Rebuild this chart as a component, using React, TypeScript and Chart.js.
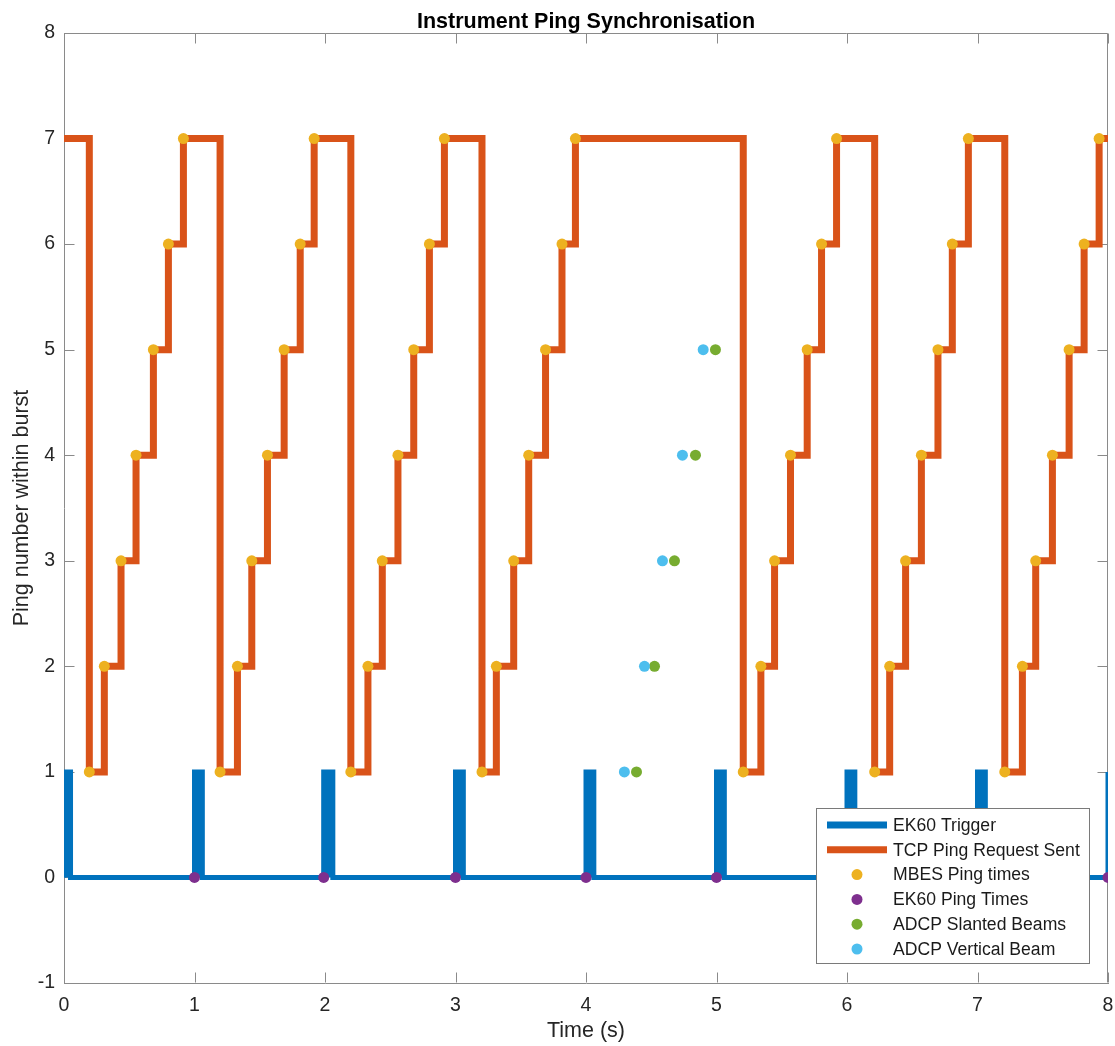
import { useEffect, useRef } from 'react';
import { Chart, registerables } from 'chart.js';

Chart.register(...registerables);

const FONT = '"Liberation Sans", Arial, Helvetica, sans-serif';

// ---- data ----
const xTickValues = [0, 1, 2, 3, 4, 5, 6, 7, 8];
const yTickValues = [-1, 0, 1, 2, 3, 4, 5, 6, 7, 8];

// EK60 trigger pulses (on / off times, s)
const triggerOn = [0.0, 1.0, 1.99, 3.0, 4.0, 5.0, 6.0, 7.0, 8.0];
const triggerOff = [0.05, 1.06, 2.06, 3.06, 4.06, 5.06, 6.06, 7.06, 8.06];

// MBES ping times within each burst (ping numbers 1..7)
const pingNumbers = [1, 2, 3, 4, 5, 6, 7];
const mbesBurst1 = [0.194, 0.309, 0.437, 0.552, 0.685, 0.800, 0.915];
const mbesBurst2 = [1.196, 1.329, 1.439, 1.559, 1.687, 1.810, 1.917];
const mbesBurst3 = [2.198, 2.329, 2.439, 2.559, 2.680, 2.800, 2.915];
const mbesBurst4 = [3.203, 3.313, 3.446, 3.561, 3.690, 3.816, 3.919];
const mbesBurst5 = [5.205, 5.340, 5.445, 5.567, 5.695, 5.805, 5.920];
const mbesBurst6 = [6.212, 6.327, 6.449, 6.570, 6.697, 6.807, 6.930];
const mbesBurst7 = [7.209, 7.344, 7.446, 7.574, 7.702, 7.817, 7.932];
const mbesBursts = [mbesBurst1, mbesBurst2, mbesBurst3, mbesBurst4, mbesBurst5, mbesBurst6, mbesBurst7];

// TCP ping request line: idle level before first / after last burst
const tcpStart = { x: 0, y: 7 };
const tcpEnd = { x: 8, y: 7 };

// EK60 ping times (at level 0)
const ek60PingTimes = [1.0, 1.99, 3.0, 4.0, 5.0, 6.0, 7.0, 8.0];

// ADCP pings
const adcpPingNumbers = [1, 2, 3, 4, 5];
const adcpSlantedTimes = [4.387, 4.525, 4.678, 4.839, 4.992];
const adcpVerticalTimes = [4.294, 4.448, 4.586, 4.739, 4.898];

const COLORS = {
  trigger: '#0072BD',
  tcp: '#D95319',
  mbes: '#EDB120',
  ek60: '#7E2F8E',
  slanted: '#77AC30',
  vertical: '#4DBEEE',
};

// ---- derived point lists ----
const triggerPoints: { x: number; y: number }[] = [];
triggerOn.forEach((on, i) => {
  const off = triggerOff[i];
  triggerPoints.push({ x: on, y: 0 }, { x: on, y: 1 }, { x: off, y: 1 }, { x: off, y: 0 });
});

const mbesPoints = mbesBursts.flatMap((burst) => burst.map((t, i) => ({ x: t, y: pingNumbers[i] })));
const tcpPoints = [tcpStart, ...mbesPoints, tcpEnd];
const ek60Points = ek60PingTimes.map((t) => ({ x: t, y: 0 }));
const slantedPoints = adcpSlantedTimes.map((t, i) => ({ x: t, y: adcpPingNumbers[i] }));
const verticalPoints = adcpVerticalTimes.map((t, i) => ({ x: t, y: adcpPingNumbers[i] }));

// ---- plugins ----
const framePlugin = {
  id: 'frame',
  beforeDatasetsDraw(chart: any) {
    const { ctx, chartArea } = chart;
    const xs = chart.scales.x;
    const ys = chart.scales.y;
    const L = Math.round(chartArea.left) + 0.5;
    const R = Math.round(chartArea.right) - 0.5;
    const T = Math.round(chartArea.top) + 0.5;
    const B = Math.round(chartArea.bottom) - 0.5;
    const len = 10;
    ctx.save();
    ctx.strokeStyle = '#8a8a8a';
    ctx.lineWidth = 1;
    ctx.beginPath();
    ctx.moveTo(L, T);
    ctx.lineTo(R, T);
    ctx.moveTo(R, T);
    ctx.lineTo(R, B);
    xTickValues.forEach((v) => {
      const px = Math.round(xs.getPixelForValue(v)) + 0.5;
      ctx.moveTo(px, B);
      ctx.lineTo(px, B - len);
      ctx.moveTo(px, T);
      ctx.lineTo(px, T + len);
    });
    yTickValues.forEach((v) => {
      const py = Math.round(ys.getPixelForValue(v)) + 0.5;
      ctx.moveTo(L, py);
      ctx.lineTo(L + len, py);
      ctx.moveTo(R, py);
      ctx.lineTo(R - len, py);
    });
    ctx.stroke();
    ctx.restore();
  },
};

const legendPlugin = {
  id: 'boxLegend',
  afterDraw(chart: any) {
    const { ctx, chartArea } = chart;
    const w = 273;
    const h = 155;
    const left = chartArea.right - 19 - w;
    const top = chartArea.bottom - 20 - h;
    ctx.save();
    ctx.fillStyle = '#ffffff';
    ctx.fillRect(left, top, w, h);
    ctx.strokeStyle = '#7a7a7a';
    ctx.lineWidth = 1;
    ctx.strokeRect(Math.round(left) + 0.5, Math.round(top) + 0.5, w, h);
    ctx.font = `17.6px ${FONT}`;
    ctx.textBaseline = 'middle';
    ctx.textAlign = 'left';
    chart.data.datasets.forEach((ds: any, i: number) => {
      const cy = top + 17 + i * 24.8;
      if (ds.showLine === false) {
        ctx.fillStyle = ds.pointBackgroundColor;
        ctx.beginPath();
        ctx.arc(left + 41, cy, 5.5, 0, Math.PI * 2);
        ctx.fill();
      } else {
        ctx.strokeStyle = ds.borderColor;
        ctx.lineWidth = 7;
        ctx.lineCap = 'butt';
        ctx.beginPath();
        ctx.moveTo(left + 11, cy);
        ctx.lineTo(left + 71, cy);
        ctx.stroke();
      }
      ctx.fillStyle = '#1a1a1a';
      ctx.fillText(ds.label, left + 77, cy + 1);
    });
    ctx.restore();
  },
};

export default function App() {
  const canvasRef = useRef<HTMLCanvasElement | null>(null);

  useEffect(() => {
    const canvas = canvasRef.current;
    if (!canvas) return;
    const dot = (label: string, data: any[], color: string, order: number) => ({
      label,
      data,
      showLine: false,
      pointRadius: 5.5,
      pointHoverRadius: 5.5,
      pointBorderWidth: 0,
      pointBackgroundColor: color,
      pointBorderColor: color,
      borderColor: color,
      backgroundColor: color,
      order,
    });
    const chart = new Chart(canvas, {
      type: 'line',
      data: {
        datasets: [
          {
            label: 'EK60 Trigger',
            data: triggerPoints,
            borderColor: COLORS.trigger,
            backgroundColor: COLORS.trigger,
            borderWidth: 5,
            fill: 'origin',
            pointRadius: 0,
            tension: 0,
            borderJoinStyle: 'miter',
            order: 6,
          } as any,
          {
            label: 'TCP Ping Request Sent',
            data: tcpPoints,
            borderColor: COLORS.tcp,
            backgroundColor: COLORS.tcp,
            borderWidth: 7,
            stepped: 'before',
            fill: false,
            pointRadius: 0,
            borderJoinStyle: 'miter',
            borderCapStyle: 'butt',
            order: 5,
          } as any,
          dot('MBES Ping times', mbesPoints, COLORS.mbes, 4),
          dot('EK60 Ping Times', ek60Points, COLORS.ek60, 3),
          dot('ADCP Slanted Beams', slantedPoints, COLORS.slanted, 2),
          dot('ADCP Vertical Beam', verticalPoints, COLORS.vertical, 1),
        ],
      },
      options: {
        animation: false,
        responsive: false,
        devicePixelRatio: 1,
        events: [],
        layout: { padding: { left: 0, right: 7, top: 0, bottom: 0 } },
        plugins: {
          legend: { display: false },
          tooltip: { enabled: false },
          title: {
            display: true,
            text: 'Instrument Ping Synchronisation',
            fullSize: false,
            color: '#000000',
            font: { family: FONT, size: 21.5, weight: 'bold', lineHeight: 1 },
            padding: { top: 11, bottom: 0.5 },
          },
        },
        scales: {
          x: {
            type: 'linear',
            min: 0,
            max: 8,
            afterFit: (s: any) => {
              s.height = 63;
              s.paddingLeft = 0;
              s.paddingRight = 0;
            },
            afterBuildTicks: (s: any) => {
              s.ticks = xTickValues.map((v) => ({ value: v }));
            },
            ticks: {
              color: '#262626',
              font: { family: FONT, size: 19.5, lineHeight: 1.2 },
              padding: 11,
              maxRotation: 0,
              autoSkip: false,
            },
            grid: { display: false, drawTicks: false },
            border: { display: true, color: '#8a8a8a', width: 1 },
            title: {
              display: true,
              text: 'Time (s)',
              color: '#262626',
              font: { family: FONT, size: 21.5, lineHeight: 1.2 },
              padding: { top: 0, bottom: 2 },
            },
          },
          y: {
            type: 'linear',
            min: -1,
            max: 8,
            afterFit: (s: any) => {
              s.width = 64;
              s.paddingTop = 0;
              s.paddingBottom = 0;
            },
            afterBuildTicks: (s: any) => {
              s.ticks = yTickValues.map((v) => ({ value: v }));
            },
            ticks: {
              color: '#262626',
              font: { family: FONT, size: 19.5, lineHeight: 1.2 },
              padding: 9,
              autoSkip: false,
            },
            grid: { display: false, drawTicks: false },
            border: { display: true, color: '#8a8a8a', width: 1 },
            title: {
              display: true,
              text: 'Ping number within burst',
              color: '#262626',
              font: { family: FONT, size: 21.5, lineHeight: 1.2 },
              padding: { top: 9, bottom: 0 },
            },
          },
        },
      } as any,
      plugins: [framePlugin, legendPlugin],
    });
    return () => chart.destroy();
  }, []);

  return (
    <div style={{ position: 'absolute', left: 0, top: 0, width: 1115, height: 1046, background: '#fff' }}>
      <canvas ref={canvasRef} width={1115} height={1046} style={{ display: 'block' }} />
    </div>
  );
}
